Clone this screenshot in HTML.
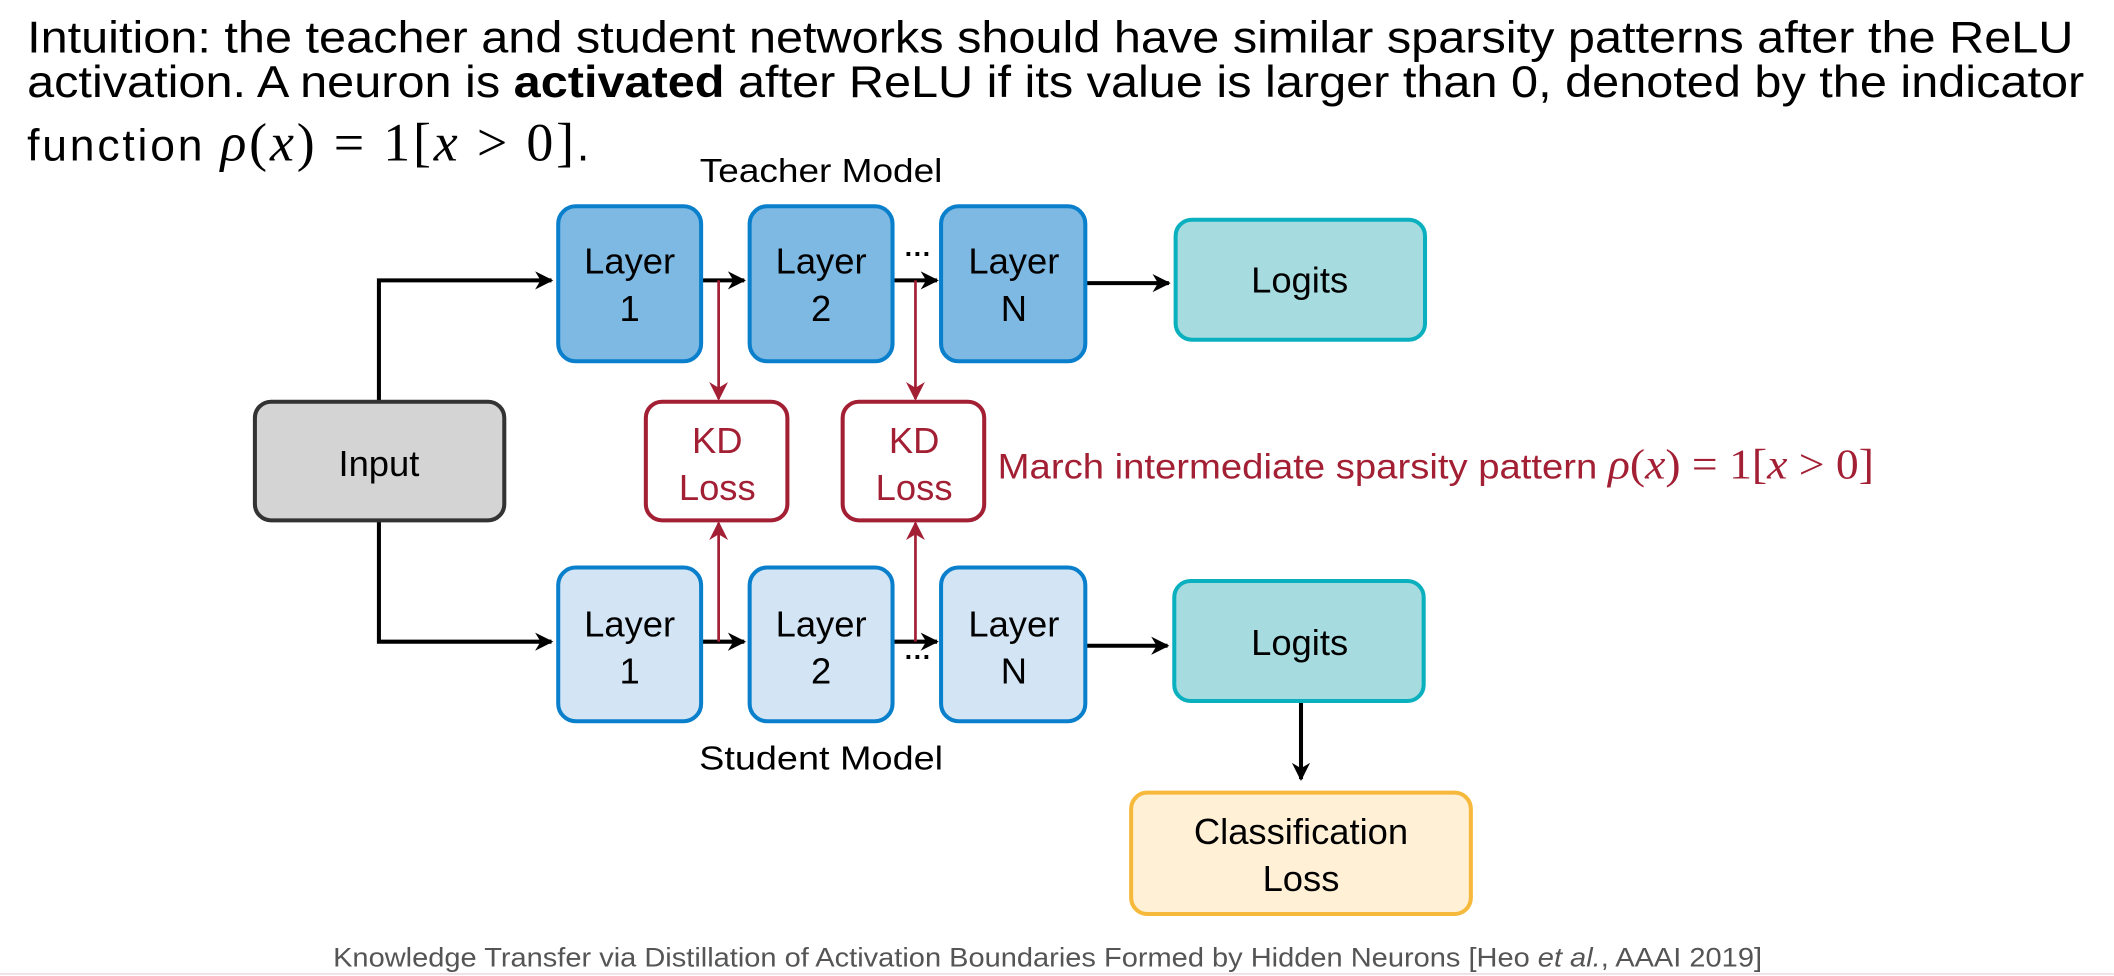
<!DOCTYPE html>
<html><head><meta charset="utf-8"><style>
html,body{margin:0;padding:0;background:#fff;width:2114px;height:976px;overflow:hidden}
svg{display:block}
text{font-family:"Liberation Sans",sans-serif}
.m{font-family:"Liberation Serif",serif}
</style></head><body>
<svg width="2114" height="976" viewBox="0 0 1568 724" xmlns="http://www.w3.org/2000/svg">
<defs>
<marker id="ab" viewBox="0 0 10 10" refX="9" refY="5" markerWidth="4.5" markerHeight="4.5" orient="auto" markerUnits="strokeWidth"><path d="M0,0 L10,5 L0,10 L3,5 z" fill="#000"/></marker>
<marker id="ar" viewBox="0 0 10 10" refX="9" refY="5" markerWidth="7" markerHeight="7" orient="auto" markerUnits="strokeWidth"><path d="M0,0 L10,5 L0,10 L3,5 z" fill="#a31f34"/></marker>
</defs>
<g font-size="33" fill="#000">
<text x="20" y="39" textLength="1518" lengthAdjust="spacingAndGlyphs">Intuition: the teacher and student networks should have similar sparsity patterns after the ReLU</text>
<text x="20" y="72" textLength="1526" lengthAdjust="spacingAndGlyphs">activation. A neuron is <tspan font-weight="bold">activated</tspan> after ReLU if its value is larger than 0, denoted by the indicator</text>
<text x="20" y="119" textLength="417" lengthAdjust="spacing">function <tspan class="m" font-style="italic" font-size="40">ρ</tspan><tspan class="m" font-size="40">(</tspan><tspan class="m" font-style="italic" font-size="40">x</tspan><tspan class="m" font-size="40">) = 1[</tspan><tspan class="m" font-style="italic" font-size="40">x</tspan><tspan class="m" font-size="40"> &gt; 0]</tspan>.</text>
</g>
<text x="609" y="135" font-size="25" text-anchor="middle" textLength="180" lengthAdjust="spacingAndGlyphs">Teacher Model</text>
<text x="609" y="571" font-size="25" text-anchor="middle" textLength="181" lengthAdjust="spacingAndGlyphs">Student Model</text>

<g stroke="#000" stroke-width="3" fill="none">
<path d="M281,298 V208 H409" marker-end="url(#ab)"/>
<path d="M281,386 V476 H409" marker-end="url(#ab)"/>
<path d="M520,208 H552" marker-end="url(#ab)"/>
<path d="M662,208 H695" marker-end="url(#ab)"/>
<path d="M520,476 H552" marker-end="url(#ab)"/>
<path d="M662,476 H695" marker-end="url(#ab)"/>
<path d="M805,210 H867" marker-end="url(#ab)"/>
<path d="M805,479 H866" marker-end="url(#ab)"/>
<path d="M965,520 V578" marker-end="url(#ab)"/>
</g>
<g stroke="#a31f34" stroke-width="2" fill="none">
<path d="M533,208 V296" marker-end="url(#ar)"/>
<path d="M679,208 V296" marker-end="url(#ar)"/>
<path d="M533,476 V388" marker-end="url(#ar)"/>
<path d="M679,476 V388" marker-end="url(#ar)"/>
</g>
<text x="681" y="195" font-size="20" font-weight="bold" text-anchor="middle">···</text>
<text x="681" y="494" font-size="20" font-weight="bold" text-anchor="middle">···</text>

<g fill="#7eb9e3" stroke="#0a7fcc" stroke-width="3">
<rect x="414" y="153" width="106" height="115" rx="13"/>
<rect x="556" y="153" width="106" height="115" rx="13"/>
<rect x="698" y="153" width="107" height="115" rx="13"/>
</g>
<g fill="#d3e5f5" stroke="#0a7fcc" stroke-width="3">
<rect x="414" y="421" width="106" height="114" rx="13"/>
<rect x="556" y="421" width="106" height="114" rx="13"/>
<rect x="698" y="421" width="107" height="114" rx="13"/>
</g>
<g fill="#a6dbe0" stroke="#0bb0bf" stroke-width="3">
<rect x="872" y="163" width="185" height="89" rx="12"/>
<rect x="871" y="431" width="185" height="89" rx="12"/>
</g>
<rect x="189" y="298" width="185" height="88" rx="12" fill="#d4d4d4" stroke="#333" stroke-width="3"/>
<g fill="#fff" stroke="#a31f34" stroke-width="3">
<rect x="479" y="298" width="105" height="88" rx="12"/>
<rect x="625" y="298" width="105" height="88" rx="12"/>
</g>
<rect x="839" y="588" width="252" height="90" rx="12" fill="#fff0d6" stroke="#f6b93b" stroke-width="3"/>

<g font-size="27" text-anchor="middle" fill="#000">
<text x="467" y="203">Layer</text><text x="467" y="238">1</text>
<text x="609" y="203">Layer</text><text x="609" y="238">2</text>
<text x="752" y="203">Layer</text><text x="752" y="238">N</text>
<text x="467" y="472">Layer</text><text x="467" y="507">1</text>
<text x="609" y="472">Layer</text><text x="609" y="507">2</text>
<text x="752" y="472">Layer</text><text x="752" y="507">N</text>
<text x="964" y="217">Logits</text>
<text x="964" y="486">Logits</text>
<text x="281" y="353">Input</text>
<text x="965" y="626">Classification</text>
<text x="965" y="661">Loss</text>
</g>
<g font-size="27" text-anchor="middle" fill="#a31f34">
<text x="532" y="336">KD</text><text x="532" y="371">Loss</text>
<text x="678" y="336">KD</text><text x="678" y="371">Loss</text>
</g>
<text x="740" y="355" font-size="26" fill="#a31f34" textLength="650" lengthAdjust="spacingAndGlyphs">March intermediate sparsity pattern <tspan class="m" font-style="italic" font-size="31">ρ</tspan><tspan class="m" font-size="31">(</tspan><tspan class="m" font-style="italic" font-size="31">x</tspan><tspan class="m" font-size="31">) = 1[</tspan><tspan class="m" font-style="italic" font-size="31">x</tspan><tspan class="m" font-size="31"> &gt; 0]</tspan></text>

<text x="247" y="717" font-size="20" fill="#555" textLength="1060" lengthAdjust="spacingAndGlyphs">Knowledge Transfer via Distillation of Activation Boundaries Formed by Hidden Neurons [Heo <tspan font-style="italic">et al.</tspan>, AAAI 2019]</text>
<line x1="0" y1="722.5" x2="1568" y2="722.5" stroke="#ecd6dc" stroke-width="1"/>
</svg>
</body></html>
